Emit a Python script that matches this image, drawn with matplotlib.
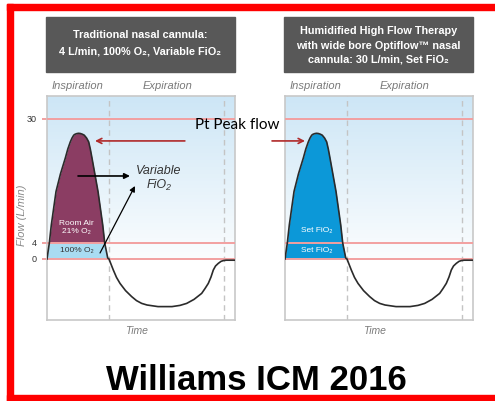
import numpy as np
import matplotlib
matplotlib.use("Agg")
import matplotlib.pyplot as plt
from matplotlib.patches import Rectangle
from matplotlib.colors import LinearSegmentedColormap

plt.rcParams['font.family'] = ['Liberation Sans', 'DejaVu Sans']

# breathing waveform (time in s, flow in L/min)
time_s = [0.0, 0.037, 0.069, 0.144, 0.215, 0.292, 0.332, 0.372, 0.399, 0.426,
          0.447, 0.479, 0.506, 0.534, 0.566, 0.595, 0.632, 0.665, 0.691, 0.718,
          0.766, 0.814, 0.889, 0.921, 0.969, 0.989,
          1.058, 1.109, 1.165, 1.253, 1.351, 1.428, 1.511, 1.596, 1.771, 1.883,
          1.995, 2.122, 2.229, 2.346, 2.468, 2.521, 2.574, 2.617, 2.654, 2.689,
          2.733, 2.776, 2.813, 2.856, 3.0]
flow_lpm = [0.0, 4.0, 7.8, 14.8, 18.5, 21.8, 23.7, 25.2, 26.0, 26.6,
            26.8, 26.95, 27.0, 26.95, 26.8, 26.6, 26.0, 25.2, 23.7, 21.8,
            18.3, 14.8, 7.8, 4.0, 0.25, 0.0,
            -2.75, -4.6, -6.1, -7.9, -9.4, -10.4, -11.1, -11.5, -11.9, -11.9,
            -11.9, -11.6, -11.1, -10.1, -8.6, -7.4, -6.1, -4.5, -2.75, -1.75,
            -1.1, -0.6, -0.4, -0.3, -0.3]

level_lines = [0, 4, 30]
level_labels = ['0', '4', '30']
phase_marks = [0.99, 2.824]   # end of inspiration, end of expiration
supplied_flow = 4             # nasal cannula flow, L/min

left_title = ["Traditional nasal cannula:", "4 L/min, 100% O\u2082, Variable FiO\u2082"]
right_title = ["Humidified High Flow Therapy", "with wide bore Optiflow\u2122 nasal",
               "cannula: 30 L/min, Set FiO\u2082"]

W, H = 495, 401


def fx(x):
    return x / W


def fy(y):
    return 1 - y / H


# schematic (non linear) flow axis
def fwd(v):
    return np.interp(v, [-100, 0, 4, 30, 100], [-400, 0, 16, 140, 140 + 70 * 4.77])


def inv(p):
    return np.interp(p, [-400, 0, 16, 140, 140 + 70 * 4.77], [-100, 0, 4, 30, 100])


YMIN, YMAX = -15.25, 34.82
PINK = '#f2a0a0'
grad_cmap = LinearSegmentedColormap.from_list('bg', ['#fbfdfe', '#cde6f6'])

fig = plt.figure(figsize=(W / 100, H / 100), dpi=100)

# red frame
for x0, y0, w, h in [(7, 4, 488, 6), (7, 4, 6, 397), (7, 395, 488, 6)]:
    fig.patches.append(Rectangle((fx(x0), fy(y0 + h)), w / W, h / H,
                                 transform=fig.transFigure, color='#ff0000', zorder=0))

t = np.array(time_s)
f = np.array(flow_lpm)


def draw_panel(left_px, kind):
    ax = fig.add_axes([fx(left_px), fy(320), 188 / W, 224 / H])
    ax.set_yscale('function', functions=(fwd, inv))
    ax.set_facecolor('white')

    zero_frac = (fwd(0) - fwd(YMIN)) / (fwd(YMAX) - fwd(YMIN))
    grad = np.linspace(0, 1, 256)[:, None]
    ax.imshow(grad, extent=[0, 1, zero_frac, 1], transform=ax.transAxes,
              aspect='auto', origin='lower', cmap=grad_cmap, zorder=0)

    for m in phase_marks:
        ax.axvline(m, color='#c4c4c4', lw=1, ls=(0, (4, 3)), zorder=1)

    if kind == 'cannula':
        ax.fill_between(t, supplied_flow, f, where=f >= supplied_flow,
                        interpolate=True, color='#8b3d63', lw=0, zorder=2)
        ax.fill_between(t, 0, np.minimum(f, supplied_flow), where=f >= 0,
                        interpolate=True, color='#a9dcf2', lw=0, zorder=2)
    else:
        ax.fill_between(t, 0, f, where=f >= 0, interpolate=True,
                        color='#0c98d8', lw=0, zorder=2)

    for v in level_lines:
        ax.axhline(v, color=PINK, lw=1.4, zorder=3)
    ax.plot(t, f, color='#2b2b2b', lw=1.2, zorder=4, solid_joinstyle='round')

    ax.set_xlim(0, 3.0)
    ax.set_ylim(YMIN, YMAX)
    ax.set_xticks([])
    for s in ax.spines.values():
        s.set_color('#c8c8c8')
        s.set_linewidth(1.2)
    return ax


ax1 = draw_panel(47, 'cannula')
ax2 = draw_panel(285, 'highflow')

ax1.set_yticks(level_lines)
ax1.set_yticklabels(level_labels)
ax1.tick_params(axis='y', length=3.5, width=1.4, color=PINK, labelsize=6.5,
                labelcolor='#333333', pad=4)
ax1.yaxis.set_minor_locator(plt.NullLocator())
ax2.set_yticks([])
ax2.yaxis.set_minor_locator(plt.NullLocator())

# text inside the fills
ax1.text(0.463, 7.3, "Room Air\n21% O\u2082", color='white', fontsize=6,
         ha='center', va='center', linespacing=1.2, zorder=5)
ax1.text(0.47, 2.0, "100% O\u2082", color='#333333', fontsize=6,
         ha='center', va='center', zorder=5)
ax2.text(0.506, 6.7, "Set FiO\u2082", color='white', fontsize=6,
         ha='center', va='center', zorder=5)
ax2.text(0.506, 2.1, "Set FiO\u2082", color='white', fontsize=6,
         ha='center', va='center', zorder=5)

# Variable FiO2 callout
ax1.text(1.787, 17.6, "Variable\nFiO\u2082", style='italic', color='#333333',
         fontsize=9, ha='center', va='center', linespacing=1.15, zorder=5)
ax1.annotate("", xy=(1.324, 18.05), xytext=(0.495, 18.05),
             arrowprops=dict(arrowstyle='-|>', color='black', lw=1.2,
                             mutation_scale=8, shrinkA=0, shrinkB=0), zorder=6)
ax1.annotate("", xy=(1.404, 15.95), xytext=(0.846, 1.5),
             arrowprops=dict(arrowstyle='-|>', color='black', lw=0.9,
                             mutation_scale=8, shrinkA=0, shrinkB=0), zorder=6)

# peak flow arrows
ax1.annotate("", xy=(0.766, 25.4), xytext=(2.2, 25.4),
             arrowprops=dict(arrowstyle='->', color='#b02a2a', lw=1.2,
                             mutation_scale=9, shrinkA=0, shrinkB=0),
             annotation_clip=False, zorder=6)
ax2.annotate("", xy=(0.319, 25.4), xytext=(-0.207, 25.4),
             arrowprops=dict(arrowstyle='->', color='#b02a2a', lw=1.2,
                             mutation_scale=9, shrinkA=0, shrinkB=0),
             annotation_clip=False, zorder=6)
fig.text(fx(237), fy(125), "Pt Peak flow", family=['Lato', 'DejaVu Sans'],
         fontsize=11, color='black', ha='center', va='center', zorder=10)

# title boxes
for x0, lines, ys in [(46, left_title, [35, 52]), (284, right_title, [31, 46, 60])]:
    fig.patches.append(Rectangle((fx(x0), fy(72)), 189 / W, 55 / H,
                                 transform=fig.transFigure, color='#585858', zorder=1))
    for line, y in zip(lines, ys):
        fig.text(fx(x0 + 94.5), fy(y), line, color='white', fontsize=7.8,
                 fontweight='bold', ha='center', va='center')

# phase labels and axis labels
for x, s in [(78, "Inspiration"), (168, "Expiration"), (316, "Inspiration"), (405, "Expiration")]:
    fig.text(fx(x), fy(86), s, style='italic', color='#7a7a7a', fontsize=8,
             ha='center', va='center')
for x in [136, 374]:
    fig.text(fx(x), fy(331), "Time", style='italic', color='#7a7a7a', fontsize=7.5,
             ha='center', va='center')
fig.text(fx(22), fy(215), "Flow (L/min)", style='italic', color='#8a8a8a',
         fontsize=8, rotation=90, ha='center', va='center')

fig.text(fx(256), fy(390), "Williams ICM 2016", fontsize=25, fontweight='bold',
         color='black', ha='center', va='baseline')

fig.savefig("out.png", dpi=100)
